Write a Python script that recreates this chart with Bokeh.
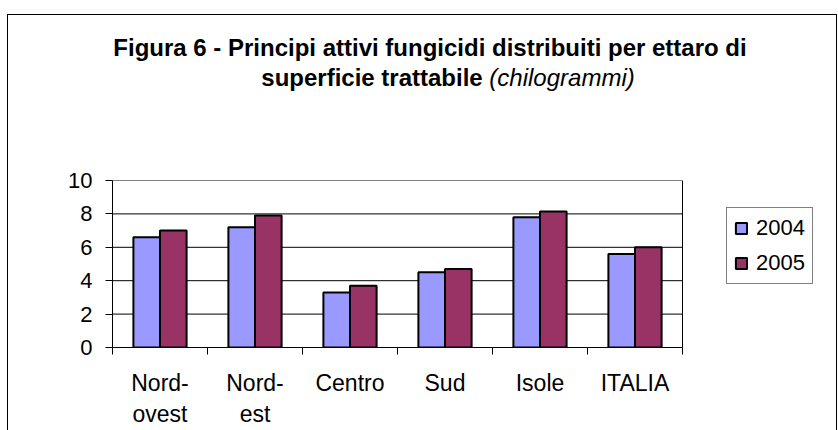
import numpy as np
from bokeh.plotting import figure
from bokeh.layouts import column
from bokeh.models import (ColumnDataSource, Range1d, FixedTicker, LinearAxis, Legend,
                          LegendItem, Div)
from bokeh.embed import file_html
from bokeh.resources import INLINE

# ---- data ----
categories = ["Nord-\novest", "Nord-\nest", "Centro", "Sud", "Isole", "ITALIA"]
series_names = ["2004", "2005"]
values_2004 = [6.6, 7.2, 3.3, 4.5, 7.8, 5.6]
values_2005 = [7.0, 7.9, 3.7, 4.7, 8.15, 6.0]
y_ticks = [0, 2, 4, 6, 8, 10]
colors = ["#9999FF", "#993366"]

title_line1 = "Figura 6 - Principi attivi fungicidi distribuiti per ettaro di"
title_line2_bold = "superficie trattabile"
title_line2_italic = "(chilogrammi)"

FONT = "Liberation Sans"
W = 828            # canvas width
LEFT = 104         # space left of the plot area
PLOT_W = 570       # width of the bar plot area in px

n = len(categories)
centers = np.arange(n) + 0.5
bar_w = 0.28
x_end = n * (W - LEFT) / PLOT_W   # frame runs to the right edge; bars occupy [0, n]

src = ColumnDataSource(dict(
    x2004=centers - bar_w / 2, x2005=centers + bar_w / 2,
    v2004=values_2004, v2005=values_2005))

p = figure(width=W, height=330, output_backend="svg", toolbar_location=None,
           x_range=Range1d(0, x_end), y_range=Range1d(0, 10),
           x_axis_type=None, y_axis_type=None,
           min_border_left=LEFT, min_border_right=0,
           min_border_top=80, min_border_bottom=82)
p.background_fill_color = "white"
p.border_fill_color = "white"
p.outline_line_color = None
p.xgrid.visible = False
p.ygrid.visible = False

# grid lines + plot-area border, limited to the bar area [0, n]
p.segment(x0=[0] * len(y_ticks), x1=[n] * len(y_ticks), y0=y_ticks, y1=y_ticks,
          line_color="black", line_width=1)
p.segment(x0=[n], x1=[n], y0=[y_ticks[0]], y1=[y_ticks[-1]],
          line_color="black", line_width=1)

# y axis
yax = LinearAxis(ticker=FixedTicker(ticks=y_ticks, minor_ticks=[]))
yax.axis_line_color = "black"
yax.major_tick_line_color = "black"
yax.major_tick_out = 7
yax.major_tick_in = 0
yax.major_label_standoff = 13
yax.major_label_text_font = FONT
yax.major_label_text_font_size = "22px"
yax.major_label_text_color = "black"
p.add_layout(yax, "left")

# x axis: labels at category centres, tick marks at category boundaries
xax = LinearAxis(ticker=FixedTicker(ticks=list(centers), minor_ticks=list(range(n + 1))),
                 bounds=(0, n))
xax.major_label_overrides = {float(c): lab for c, lab in zip(centers, categories)}
xax.axis_line_color = "black"
xax.major_tick_line_color = None
xax.major_tick_out = 7
xax.major_tick_in = 0
xax.minor_tick_line_color = "black"
xax.minor_tick_out = 7
xax.minor_tick_in = 0
xax.major_label_standoff = 15
xax.major_label_text_font = FONT
xax.major_label_text_font_size = "23px"
xax.major_label_text_color = "black"
xax.major_label_text_line_height = 1.22
p.add_layout(xax, "below")

r1 = p.vbar(x="x2004", top="v2004", width=bar_w, source=src,
            fill_color=colors[0], line_color="black", line_width=2)
r2 = p.vbar(x="x2005", top="v2005", width=bar_w, source=src,
            fill_color=colors[1], line_color="black", line_width=2)

legend = Legend(items=[LegendItem(label=series_names[0], renderers=[r1]),
                       LegendItem(label=series_names[1], renderers=[r2])],
                location=(614, 63))
legend.border_line_color = "black"
legend.border_line_width = 1
legend.background_fill_color = "white"
legend.padding = 7
legend.spacing = 9
legend.margin = 0
legend.glyph_width = 14
legend.glyph_height = 14
legend.label_height = 22
legend.label_standoff = 8
legend.label_text_font = FONT
legend.label_text_font_size = "22px"
legend.label_text_color = "black"
p.add_layout(legend, "center")

title_html = (
    f'<div style="width:{W}px;box-sizing:border-box;text-align:center;'
    f"font-family:'{FONT}';font-size:24px;line-height:30px;color:black;"
    f'padding-top:18px;padding-left:16px;margin:0;">'
    f'<b>{title_line1}</b><br>'
    f'<span style="position:relative;left:18px;"><b>{title_line2_bold}</b> '
    f'<i>{title_line2_italic}</i></span></div>'
)
title = Div(text=title_html, width=W, height=85, margin=0)

layout = column(title, p, spacing=0)
layout.styles = {"border-top": "1px solid black", "border-left": "1px solid black",
                 "border-right": "1px solid black",
                 "margin-top": "14px", "margin-left": "7px"}

open("out.html", "w").write(file_html(layout, INLINE))
